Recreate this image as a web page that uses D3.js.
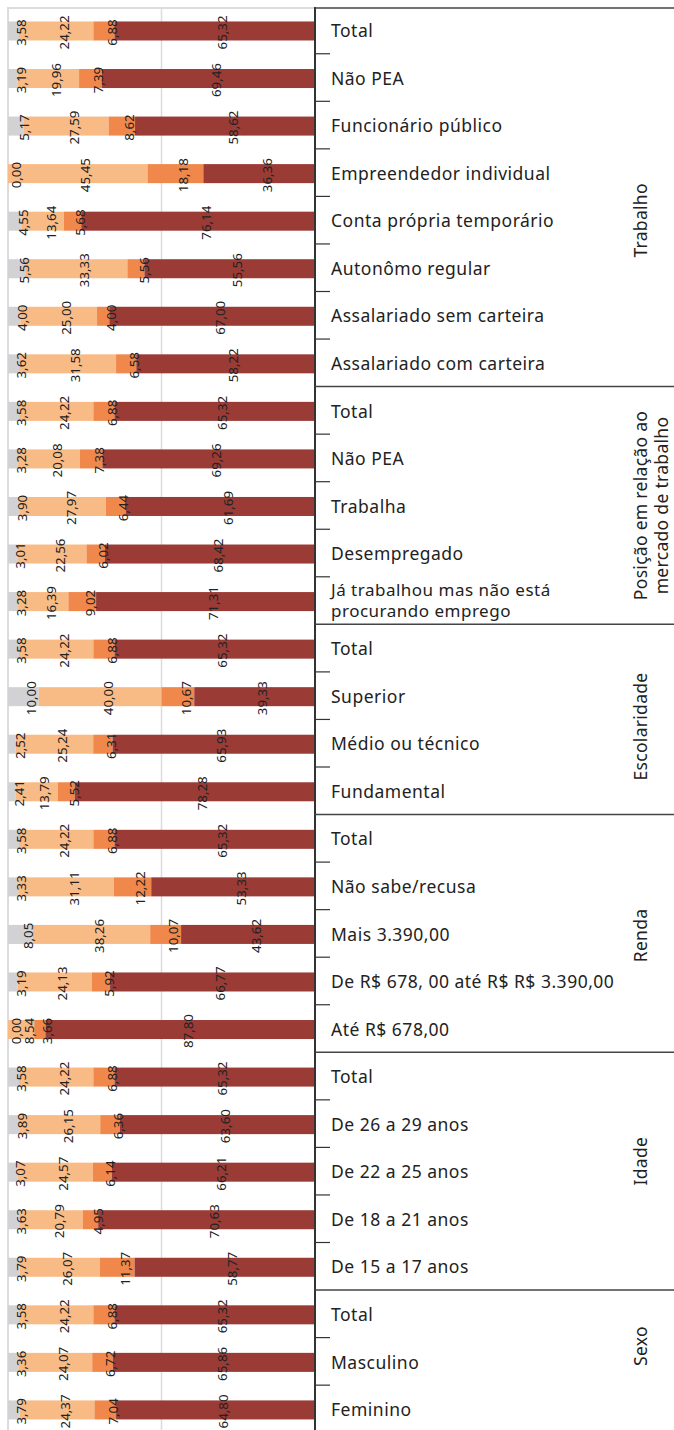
<!DOCTYPE html>
<html><head><meta charset="utf-8">
<script src="https://cdn.jsdelivr.net/npm/d3@7"></script>
<style>body{margin:0;background:#fff}svg{display:block}</style>
</head><body>
<script>
const series = ["Não sabe", "Sim", "Talvez", "Não"];
const colors = ["#d2d2d4", "#f9bb86", "#f0874b", "#9a3b36"];

const groups = ["Trabalho", "Posição em relação ao|mercado de trabalho", "Escolaridade", "Renda", "Idade", "Sexo"];

const categories = [
  "Total","Não PEA","Funcionário público","Empreendedor individual","Conta própria temporário","Autonômo regular","Assalariado sem carteira","Assalariado com carteira",
  "Total","Não PEA","Trabalha","Desempregado","Já trabalhou mas não está|procurando emprego",
  "Total","Superior","Médio ou técnico","Fundamental",
  "Total","Não sabe/recusa","Mais 3.390,00","De R$ 678, 00 até R$ R$ 3.390,00","Até R$ 678,00",
  "Total","De 26 a 29 anos","De 22 a 25 anos","De 18 a 21 anos","De 15 a 17 anos",
  "Total","Masculino","Feminino"
];
const categoryGroup = [0,0,0,0,0,0,0,0, 1,1,1,1,1, 2,2,2,2, 3,3,3,3,3, 4,4,4,4,4, 5,5,5];

const valNaoSabe = [3.58,3.19,5.17,0.00,4.55,5.56,4.00,3.62, 3.58,3.28,3.90,3.01,3.28, 3.58,10.00,2.52,2.41, 3.58,3.33,8.05,3.19,0.00, 3.58,3.89,3.07,3.63,3.79, 3.58,3.36,3.79];
const valSim     = [24.22,19.96,27.59,45.45,13.64,33.33,25.00,31.58, 24.22,20.08,27.97,22.56,16.39, 24.22,40.00,25.24,13.79, 24.22,31.11,38.26,24.13,8.54, 24.22,26.15,24.57,20.79,26.07, 24.22,24.07,24.37];
const valTalvez  = [6.88,7.39,8.62,18.18,5.68,5.56,4.00,6.58, 6.88,7.38,6.44,6.02,9.02, 6.88,10.67,6.31,5.52, 6.88,12.22,10.07,5.92,3.66, 6.88,6.36,6.14,4.95,11.37, 6.88,6.72,7.04];
const valNao     = [65.32,69.46,58.62,36.36,76.14,55.56,67.00,58.22, 65.32,69.26,61.69,68.42,71.31, 65.32,39.33,65.93,78.28, 65.32,53.33,43.62,66.77,87.80, 65.32,63.60,66.21,70.63,58.77, 65.32,65.86,64.80];

const W = 674, H = 1430;
const svg = d3.select("body").append("svg").attr("width", W).attr("height", H);

const rows = categories.map((c, i) => ({
  id: i, label: c, group: categoryGroup[i],
  [series[0]]: valNaoSabe[i], [series[1]]: valSim[i], [series[2]]: valTalvez[i], [series[3]]: valNao[i]
}));

const x0 = 8, x1 = 315;
const x = d3.scaleLinear().domain([0, 100]).range([x0, x1]);
const yTop = 6.2, rowStep = 47.55;
const y = d3.scaleBand().domain(rows.map(d => d.id)).range([yTop + 1, yTop + 1 + rowStep * 30]).paddingInner(0.6).paddingOuter(0.3);
const yc = id => y(id) + y.bandwidth() / 2;

// grid
svg.append("line").attr("x1", x(0)).attr("x2", x(0)).attr("y1", 7).attr("y2", H).attr("stroke", "#dcdcdc").attr("stroke-width", 2);
svg.append("line").attr("x1", x(50)).attr("x2", x(50)).attr("y1", 7).attr("y2", H).attr("stroke", "#dcdcdc").attr("stroke-width", 1.5);
svg.append("line").attr("x1", x(0) - 1).attr("x2", x1).attr("y1", 8).attr("y2", 8).attr("stroke", "#dcdcdc").attr("stroke-width", 2);

// bars
const stack = d3.stack().keys(series)(rows);
const layer = svg.append("g").selectAll("g").data(stack).join("g").attr("fill", (d, i) => colors[i]);
layer.selectAll("rect").data(d => d).join("rect")
  .attr("x", d => x(d[0])).attr("width", d => x(d[1]) - x(d[0]))
  .attr("y", d => y(d.data.id)).attr("height", y.bandwidth());

// value labels
const fmt = v => d3.format(".2f")(v).replace(".", ",");
svg.append("g").selectAll("g").data(stack).join("g").each(function(s) {
  d3.select(this).selectAll("text").data(s).join("text")
    .attr("transform", d => `translate(${(x(d[0]) + x(d[1])) / 2 + 8},${yc(d.data.id) + 1.5}) rotate(-90)`)
    .attr("text-anchor", "middle").attr("dy", "0.35em")
    .attr("font-family", "Noto Sans, Open Sans, sans-serif").attr("font-size", 13.3).attr("fill", "#222")
    .text(d => fmt(d.data[s.key]));
});

// right axis
svg.append("line").attr("x1", x1).attr("x2", x1).attr("y1", 7).attr("y2", H).attr("stroke", "#333").attr("stroke-width", 2);

// ticks & group separators
const bounds = d3.range(0, 31).map(i => yTop + rowStep * i);
bounds.forEach((b, i) => {
  if (i === 0) return;
  if (i < 30 && categoryGroup[i] === categoryGroup[i - 1]) {
    svg.append("line").attr("x1", x1).attr("x2", 330).attr("y1", b).attr("y2", b).attr("stroke", "#333").attr("stroke-width", 1.2);
  } else {
    svg.append("line").attr("x1", x1).attr("x2", W).attr("y1", b).attr("y2", b).attr("stroke", "#444").attr("stroke-width", 1.5);
  }
});
svg.append("line").attr("x1", x1).attr("x2", W).attr("y1", 8).attr("y2", 8).attr("stroke", "#444").attr("stroke-width", 1.5);

// category labels
const lab = svg.append("g").attr("font-family", "Noto Sans, Open Sans, sans-serif").attr("font-size", 17.5).attr("letter-spacing", 0.5).attr("fill", "#222");
rows.forEach(d => {
  const lines = d.label.split("|");
  if (lines.length === 1) {
    lab.append("text").attr("x", 331).attr("y", yc(d.id)).attr("dy", "0.35em").text(lines[0]);
  } else {
    lines.forEach((l, k) => {
      lab.append("text").attr("x", 331).attr("y", yc(d.id) + (k - (lines.length - 1) / 2) * 20.5).attr("dy", "0.3em").attr("font-size", 17).text(l);
    });
  }
});

// group labels (layout nudges, in px)
const groupNudge = [24, 0, 7, 2, -10, -14];
groups.forEach((g, gi) => {
  const ids = rows.filter(r => r.group === gi).map(r => r.id);
  const top = yTop + rowStep * ids[0], bot = yTop + rowStep * (ids[ids.length - 1] + 1);
  const cy = (top + Math.min(bot, H)) / 2 + groupNudge[gi];
  const lines = g.split("|");
  const t = lab.append("text").attr("transform", `translate(641,${cy}) rotate(-90)`).attr("text-anchor", "middle").attr("letter-spacing", 0.3);
  lines.forEach((l, k) => {
    t.append("tspan").attr("x", 0).attr("y", k * 21).attr("dy", "0.35em").text(l);
  });
});
</script>
</body></html>
